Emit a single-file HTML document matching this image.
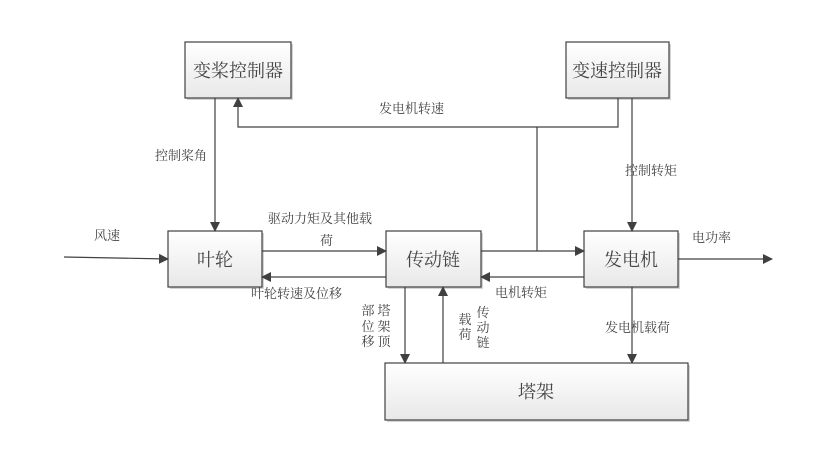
<!DOCTYPE html>
<html><head><meta charset="utf-8"><style>
html,body{margin:0;padding:0;background:#fff;}
svg{display:block;}
text{font-family:"Liberation Serif","Noto Serif CJK SC",serif;fill:#444;}
.b{font-size:18px;}
.l{font-size:13px;}
</style></head><body>
<svg width="823" height="464" viewBox="0 0 823 464" xmlns="http://www.w3.org/2000/svg">
<defs>
<linearGradient id="g" x1="0" y1="0" x2="0" y2="1">
<stop offset="0" stop-color="#ffffff"/><stop offset="1" stop-color="#e8e8e8"/>
</linearGradient>
<marker id="a" markerWidth="10" markerHeight="10" refX="9" refY="5" orient="auto" markerUnits="userSpaceOnUse">
<path d="M0,0 L10,5 L0,10 z" fill="#404040"/>
</marker>
</defs>
<g fill="#d4d4d4">
<rect x="187" y="44" width="106" height="56"/>
<rect x="568" y="44" width="103" height="56"/>
<rect x="170" y="233" width="94" height="56"/>
<rect x="388" y="233" width="95" height="56"/>
<rect x="586" y="233" width="94" height="56"/>
<rect x="387" y="365" width="303" height="57"/>
</g>
<g fill="url(#g)" stroke="#404040" stroke-width="1.2">
<rect x="185" y="42" width="106" height="56"/>
<rect x="566" y="42" width="103" height="56"/>
<rect x="168" y="231" width="94" height="56"/>
<rect x="386" y="231" width="95" height="56"/>
<rect x="584" y="231" width="94" height="56"/>
<rect x="385" y="363" width="303" height="57"/>
</g>
<g stroke="#404040" stroke-width="1.2" fill="none">
<line x1="215" y1="98" x2="215" y2="231" marker-end="url(#a)"/>
<polyline points="618,98 618,127 238,127 238,98" marker-end="url(#a)"/>
<line x1="537" y1="127" x2="537" y2="251"/>
<line x1="632" y1="98" x2="632" y2="231" marker-end="url(#a)"/>
<line x1="64" y1="257" x2="168" y2="259" marker-end="url(#a)"/>
<line x1="262" y1="251" x2="386" y2="251" marker-end="url(#a)"/>
<line x1="386" y1="277" x2="262" y2="277" marker-end="url(#a)"/>
<line x1="481" y1="251" x2="584" y2="251" marker-end="url(#a)"/>
<line x1="584" y1="277" x2="481" y2="277" marker-end="url(#a)"/>
<line x1="678" y1="259" x2="772" y2="259" marker-end="url(#a)"/>
<line x1="405" y1="287" x2="405" y2="363" marker-end="url(#a)"/>
<line x1="443" y1="363" x2="443" y2="287" marker-end="url(#a)"/>
<line x1="632" y1="287" x2="632" y2="363" marker-end="url(#a)"/>
</g>
<g class="b" text-anchor="middle">
<text x="238" y="77">变桨控制器</text>
<text x="617" y="77">变速控制器</text>
<text x="215" y="266">叶轮</text>
<text x="433" y="266">传动链</text>
<text x="631" y="266">发电机</text>
<text x="536" y="398">塔架</text>
</g>
<g class="l">
<text x="379" y="113">发电机转速</text>
<text x="155" y="160">控制桨角</text>
<text x="94" y="240">风速</text>
<text x="268" y="223">驱动力矩及其他载</text>
<text x="320" y="245">荷</text>
<text x="251" y="298">叶轮转速及位移</text>
<text x="495" y="297">电机转矩</text>
<text x="625" y="175">控制转矩</text>
<text x="692" y="242">电功率</text>
<text x="605" y="332">发电机载荷</text>
</g>
<g class="l" text-anchor="middle">
<text x="368" y="315">部</text><text x="368" y="331">位</text><text x="368" y="346">移</text>
<text x="384" y="315">塔</text><text x="384" y="331">架</text><text x="384" y="346">顶</text>
<text x="465" y="324">载</text><text x="465" y="339">荷</text>
<text x="483" y="317">传</text><text x="483" y="332">动</text><text x="483" y="347">链</text>
</g>
</svg>
</body></html>
